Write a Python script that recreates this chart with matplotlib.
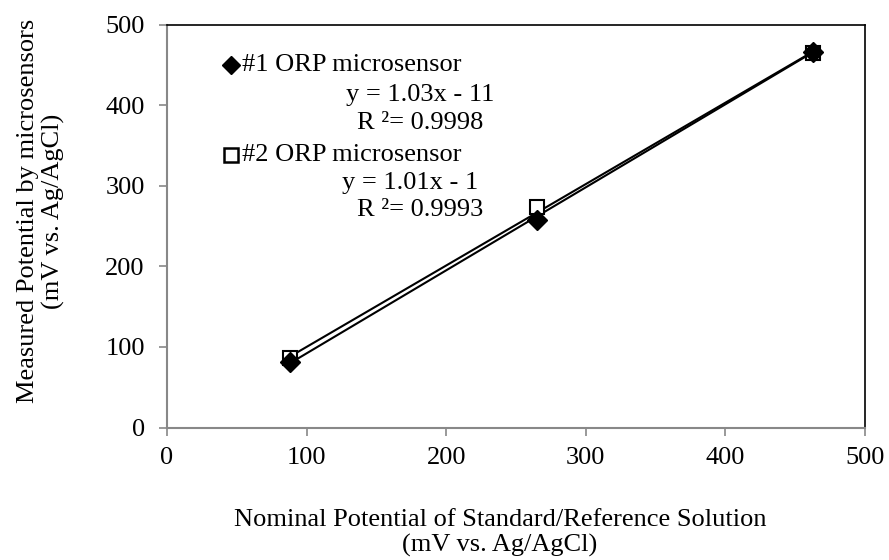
import matplotlib.pyplot as plt
import numpy as np

plt.rcParams['font.family'] = ['Liberation Serif', 'DejaVu Serif']
plt.rcParams['font.size'] = 19

# nominal potentials (x) and measured by each sensor (y)
nominal = [88, 265, 463]
sensor1 = [81, 258, 466]
sensor2 = [86, 273, 465]

# trendline coefficients (slope, intercept) as labelled
fit1 = [1.03, -11]
fit2 = [1.01, -1]

ticks = [0, 100, 200, 300, 400, 500]

fig = plt.figure(figsize=(8.89, 5.6), dpi=100)
ax = fig.add_axes([167 / 889, 1 - 427.5 / 560, 698 / 889, 403 / 560])

xs = np.array([min(nominal), max(nominal)])
ax.plot(xs, fit1[0] * xs + fit1[1], color='black', linewidth=1.5, zorder=2)
ax.plot(xs, fit2[0] * xs + fit2[1], color='black', linewidth=1.5, zorder=2)

ax.plot(nominal, sensor2, linestyle='none', marker='s', markersize=10,
        markerfacecolor='white', markeredgecolor='black', markeredgewidth=1.5, zorder=3)
ax.plot(nominal, sensor1, linestyle='none', marker='D', markersize=10,
        color='black', zorder=4)

ax.set_xlim(0, 500)
ax.set_ylim(0, 500)
ax.set_xticks(ticks)
ax.set_yticks(ticks)
ax.tick_params(labelsize=19, direction='out', length=6, color='#888888', width=1.2)
ax.tick_params(axis='x', pad=8)
ax.tick_params(axis='y', pad=10)

for s in ['left', 'bottom']:
    ax.spines[s].set_color('#888888')
    ax.spines[s].set_linewidth(1.5)
for s in ['top', 'right']:
    ax.spines[s].set_color('black')
    ax.spines[s].set_linewidth(1.2)

ax.set_xlabel("Nominal Potential of Standard/Reference Solution\n(mV vs. Ag/AgCl)",
              fontsize=19, va='center')
ax.xaxis.set_label_coords(0.477, -0.262)
ax.set_ylabel("Measured Potential by microsensors\n(mV vs. Ag/AgCl)",
              fontsize=19, va='center')
ax.yaxis.set_label_coords(-0.1805, 0.537)

# legend-like annotations
tr = ax.transAxes
ax.plot([0.0917], [0.8995], marker='D', markersize=9.5, color='black', transform=tr, clip_on=False)
ax.text(0.1074, 0.8995, "#1 ORP microsensor", fontsize=19, va='center', transform=tr)
ax.text(0.3625, 0.825, "y = 1.03x - 11", fontsize=19, va='center', ha='center', transform=tr)
ax.text(0.3625, 0.7556, "R ²= 0.9998", fontsize=19, va='center', ha='center', transform=tr)

ax.plot([0.0917], [0.676], marker='s', markersize=10, markerfacecolor='white',
        markeredgecolor='black', markeredgewidth=1.8, transform=tr, clip_on=False)
ax.text(0.1074, 0.676, "#2 ORP microsensor", fontsize=19, va='center', transform=tr)
ax.text(0.348, 0.6067, "y = 1.01x - 1", fontsize=19, va='center', ha='center', transform=tr)
ax.text(0.3625, 0.5397, "R ²= 0.9993", fontsize=19, va='center', ha='center', transform=tr)

plt.savefig("out.png", dpi=100)
